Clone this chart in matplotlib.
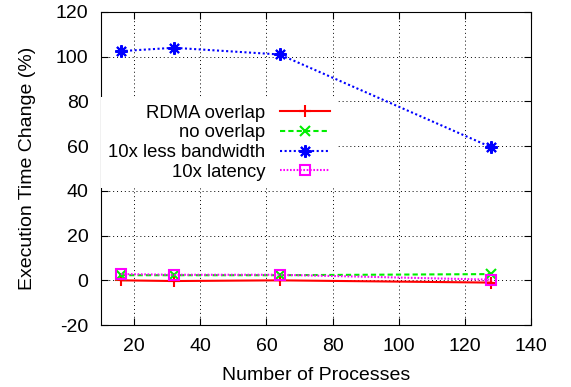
import matplotlib.pyplot as plt

plt.rcParams["font.family"] = ["Liberation Sans", "DejaVu Sans"]
plt.rcParams["font.size"] = 14
plt.rcParams["axes.unicode_minus"] = False

procs = [16, 32, 64, 128]
rdma_overlap = [0.0, -0.3, 0.0, -1.0]
no_overlap = [2.3, 2.3, 2.3, 2.8]
less_bw = [102.5, 104.0, 101.0, 59.5]
latency = [2.8, 2.5, 2.5, 0.3]

fig = plt.figure(figsize=(5.71, 3.87), dpi=100)
ax = fig.add_axes([0.177, 0.160, 0.753, 0.809])

ax.plot(procs, rdma_overlap, color="#ff0000", lw=1.5, ls="-", marker="+",
        ms=8, mew=1.5, label="RDMA overlap")
ax.plot(procs, no_overlap, color="#00ee00", lw=1.5, ls=(0, (2.5, 1.5)), marker="x",
        ms=7.5, mew=1.5, label="no overlap")
ax.plot(procs, less_bw, color="#0000ff", lw=1.5, ls=(0, (1, 1.2)), marker=(8, 2, 0),
        ms=9, mew=1.5, label="10x less bandwidth")
ax.plot(procs, latency, color="#ff00ff", lw=1.5, ls=(0, (0.8, 0.8)), marker="s",
        ms=7.5, mew=1.5, mfc="none", label="10x latency")

ax.set_xlim(10, 140)
ax.set_ylim(-20, 120)
ax.set_xticks(range(20, 141, 20))
ax.set_yticks(range(-20, 121, 20))
ax.tick_params(direction="in", top=True, right=True, length=5, pad=9)
ax.grid(True, color="black", ls=(0, (1, 3)), lw=0.7)
ax.set_xlabel("Number of Processes", labelpad=9)
ax.set_ylabel("Execution Time Change (%)", labelpad=14)

leg = ax.legend(loc="upper left", bbox_to_anchor=(0.0, 0.727), markerfirst=False,
                frameon=True, fancybox=False, edgecolor="none", framealpha=1,
                fontsize=13.3, handlelength=2.75, labelspacing=0.14, borderpad=0.4,
                borderaxespad=0, handletextpad=0.76)
for t in leg.get_texts():
    t.set_ha("right")
leg._legend_box.align = "right"

fig.savefig("out.png", dpi=100)
